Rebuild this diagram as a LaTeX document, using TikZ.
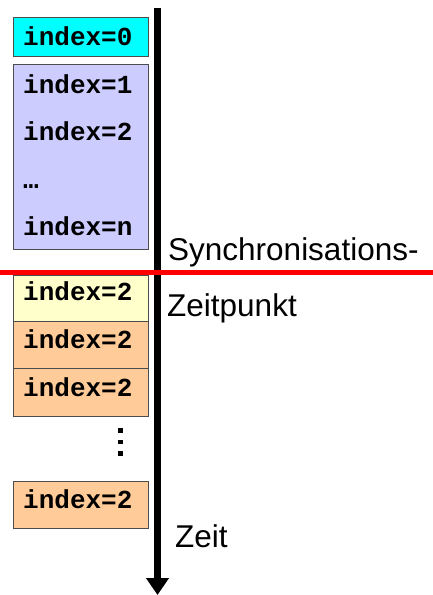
\documentclass[tikz,border=0pt]{standalone}
\usepackage{fontspec}
\setmainfont{Liberation Sans}
\setmonofont{Liberation Mono}
\usetikzlibrary{arrows.meta}
\definecolor{cyanbox}{HTML}{00FFFF}
\definecolor{lilabox}{HTML}{CCCCFF}
\definecolor{gelbbox}{HTML}{FFFFCC}
\definecolor{orangebox}{HTML}{FFCC99}
\begin{document}
\begin{tikzpicture}[x=1pt,y=-1pt,
  slot/.style={draw=black!70, line width=0.9pt, rectangle, inner sep=0pt, anchor=north west, minimum width=135pt},
  code/.style={anchor=base west, inner sep=0pt, font=\fontsize{26}{30}\selectfont\ttfamily\bfseries},
  label/.style={anchor=base west, inner sep=0pt, font=\fontsize{31.5}{36}\selectfont\sffamily\rmfamily},
  dotmark/.style={fill=black, draw=none, minimum size=4.5pt, inner sep=0pt, rectangle}]
  \useasboundingbox (0,0) rectangle (433,595);

  % tasks before synchronisation
  \node[slot, fill=cyanbox, minimum height=39pt] (b0) at (13,17) {};
  \node[slot, fill=lilabox, minimum height=185pt] (bp) at (13,64) {};
  \node[code] (t0) at (23,45) {index=0};
  \node[code] (t1) at (23,93) {index=1};
  \node[code] (t2) at (23,140) {index=2};
  \node[code] (t3) at (23,188) {…};
  \node[code] (tn) at (23,235) {index=n};

  % tasks after synchronisation
  \node[slot, fill=gelbbox, minimum height=46pt] (y1) at (13,275) {};
  \node[slot, fill=orangebox, minimum height=47pt] (o1) at (13,321) {};
  \node[slot, fill=orangebox, minimum height=48pt] (o2) at (13,368) {};
  \node[slot, fill=orangebox, minimum height=47pt] (o3) at (13,481) {};
  \node[code] (ty1) at (23,300) {index=2};
  \node[code] (to1) at (23,348) {index=2};
  \node[code] (to2) at (23,396) {index=2};
  \node[code] (to3) at (23,508) {index=2};

  % vertical ellipsis
  \node[dotmark] (d1) at (120.5,430.5) {};
  \node[dotmark] (d2) at (120.5,442) {};
  \node[dotmark] (d3) at (120.5,453.5) {};

  % time axis
  \coordinate (ttop) at (157.5,8);
  \coordinate (tbot) at (157.5,595);
  \draw[line width=7pt, -{Triangle[width=22pt,length=17pt]}] (ttop) -- (tbot);

  % synchronisation line
  \coordinate (sl) at (0,272.5);
  \coordinate (sr) at (433,272.5);
  \draw[red, line width=5pt] (sl) -- (sr);

  % labels
  \node[label, font=\fontsize{31.5}{36}\selectfont] (sync) at (168,260) {Synchronisations-};
  \node[label, font=\fontsize{31.5}{36}\selectfont] (zp) at (167,316) {Zeitpunkt};
  \node[label, font=\fontsize{31.5}{36}\selectfont] (zeit) at (175,547) {Zeit};
\end{tikzpicture}
\end{document}
